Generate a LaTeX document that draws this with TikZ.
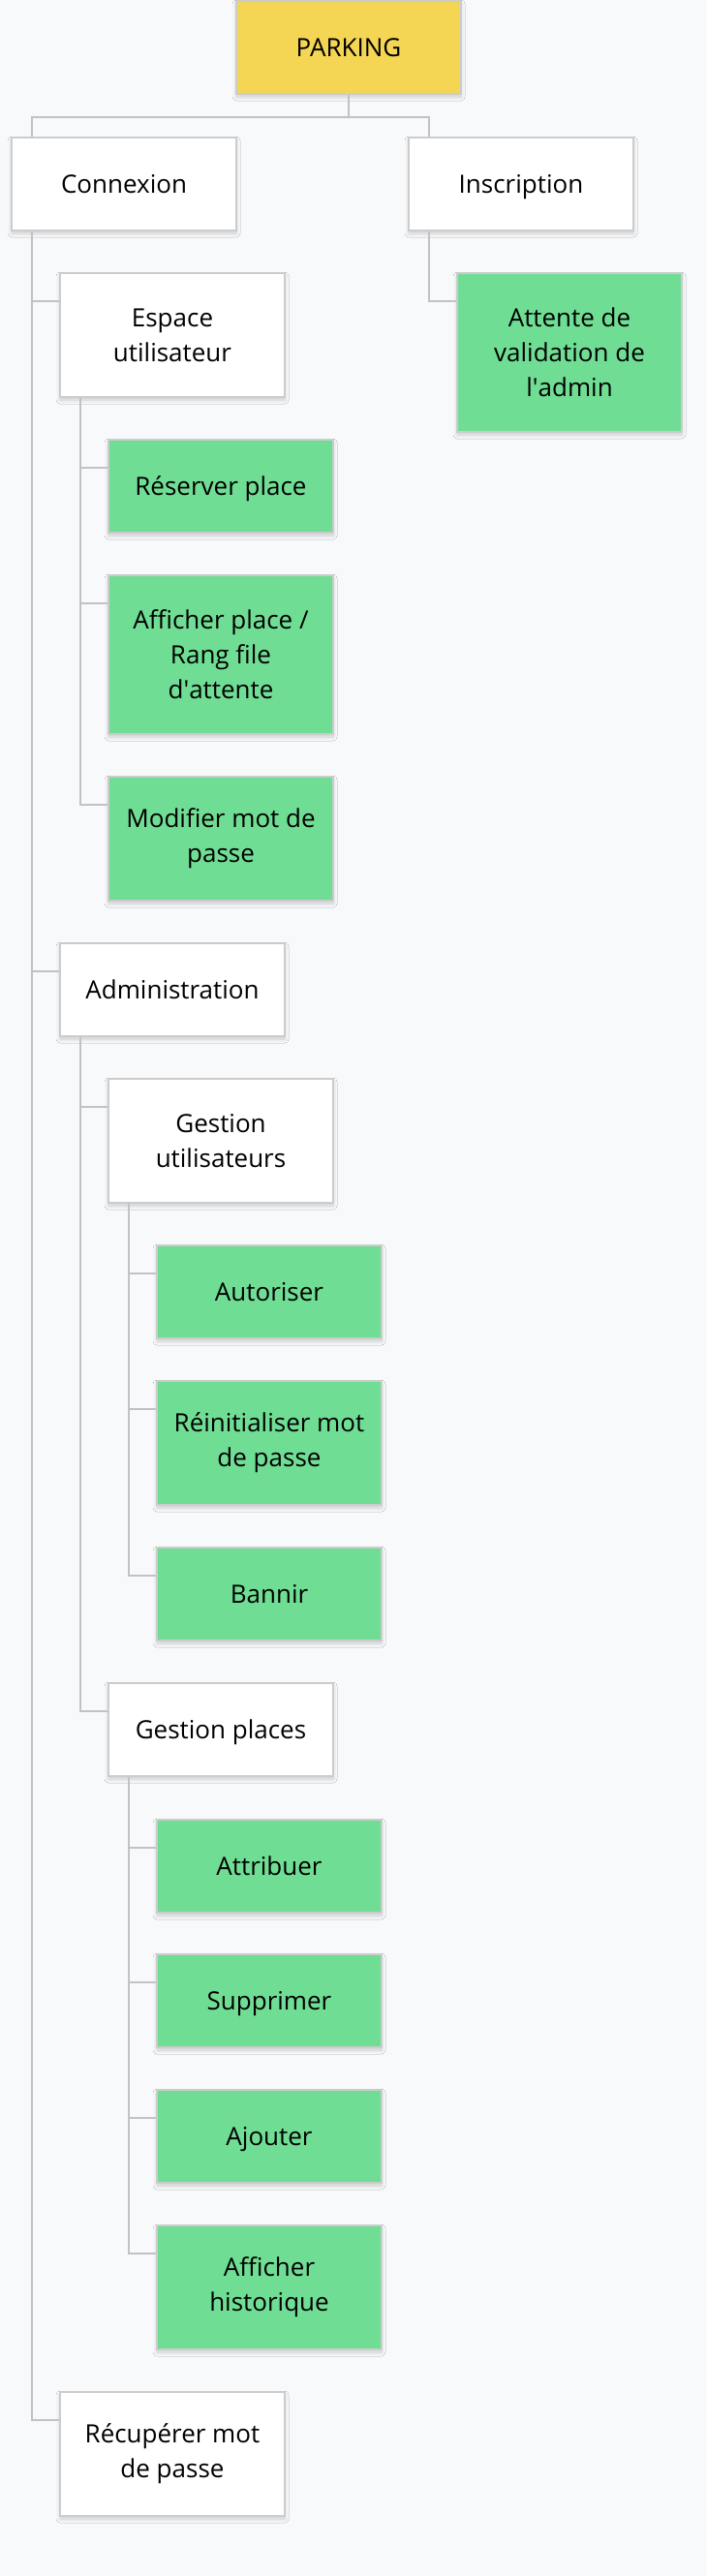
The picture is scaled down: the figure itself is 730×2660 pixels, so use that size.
\documentclass[tikz,border=0pt]{standalone}
\usepackage{fontspec}
\setmainfont{Open Sans}
\usetikzlibrary{shadows.blur}
\definecolor{bgcol}{HTML}{F8F9FB}
\definecolor{bordercol}{HTML}{CCCCCC}
\definecolor{linecol}{HTML}{C2C2C6}
\definecolor{yellowcol}{HTML}{F4D554}
\definecolor{greencol}{HTML}{70DD94}
\tikzset{
  box/.style={draw=bordercol, line width=2pt, minimum width=232pt, inner sep=0pt,
    align=center, font=\fontsize{26}{36}\selectfont, text=black,
    blur shadow={shadow xshift=0pt, shadow yshift=-3pt, shadow blur steps=6, shadow opacity=18, shadow blur radius=4pt}},
  wbox/.style={box, fill=white},
  gbox/.style={box, fill=greencol},
  ybox/.style={box, fill=yellowcol},
  h1/.style={minimum height=96pt, text height=18.5pt, text depth=0pt},
  multi/.style={execute at begin node={\rule{0pt}{26pt}}},
  h2/.style={minimum height=128pt, multi},
  h3/.style={minimum height=164pt, multi},
  conn/.style={draw=linecol, line width=2pt},
}
\begin{document}
\begin{tikzpicture}[x=1pt,y=1pt]
\fill[bgcol] (0,0) rectangle (730,-2660);
\useasboundingbox (0,0) rectangle (730,-2660);

\node[ybox,h1] (root) at (360,-49) {PARKING};
\node[wbox,h1] (cnx) at (128,-190) {Connexion};
\node[wbox,h1] (ins) at (538,-190) {Inscription};
\node[gbox,h3] (att) at (588,-364) {Attente de\\validation de\\l\textquotesingle admin};
\node[wbox,h2] (esp) at (178,-346) {Espace\\utilisateur};
\node[gbox,h1] (res) at (228,-502) {Réserver place};
\node[gbox,h3] (aff) at (228,-676) {Afficher place /\\Rang file\\d\textquotesingle attente};
\node[gbox,h2] (mod) at (228,-866) {Modifier mot de\\passe};
\node[wbox,h1] (adm) at (178,-1022) {Administration};
\node[wbox,h2] (gu) at (228,-1178) {Gestion\\utilisateurs};
\node[gbox,h1] (aut) at (278,-1334) {Autoriser};
\node[gbox,h2] (rei) at (278,-1490) {Réinitialiser mot\\de passe};
\node[gbox,h1] (ban) at (278,-1646) {Bannir};
\node[wbox,h1] (gp) at (228,-1786) {Gestion places};
\node[gbox,h1] (atr) at (278,-1927) {Attribuer};
\node[gbox,h1] (sup) at (278,-2066) {Supprimer};
\node[gbox,h1] (ajo) at (278,-2206) {Ajouter};
\node[gbox,h2] (his) at (278,-2362) {Afficher\\historique};
\node[wbox,h2] (rec) at (178,-2534) {Récupérer mot\\de passe};

% root to first level
\draw[conn] (root.south) -- ++(0,-23) -| ([xshift=22pt]cnx.north west);
\draw[conn] (root.south) -- ++(0,-23) -| ([xshift=22pt]ins.north west);
% Inscription
\draw[conn] ([xshift=22pt]ins.south west) |- ([yshift=-30pt]att.north west);
% Connexion
\draw[conn] ([xshift=22pt]cnx.south west) |- ([yshift=-30pt]esp.north west);
\draw[conn] ([xshift=22pt]cnx.south west) |- ([yshift=-30pt]adm.north west);
\draw[conn] ([xshift=22pt]cnx.south west) |- ([yshift=-30pt]rec.north west);
% Espace
\draw[conn] ([xshift=22pt]esp.south west) |- ([yshift=-30pt]res.north west);
\draw[conn] ([xshift=22pt]esp.south west) |- ([yshift=-30pt]aff.north west);
\draw[conn] ([xshift=22pt]esp.south west) |- ([yshift=-30pt]mod.north west);
% Administration
\draw[conn] ([xshift=22pt]adm.south west) |- ([yshift=-30pt]gu.north west);
\draw[conn] ([xshift=22pt]adm.south west) |- ([yshift=-30pt]gp.north west);
% Gestion utilisateurs
\draw[conn] ([xshift=22pt]gu.south west) |- ([yshift=-30pt]aut.north west);
\draw[conn] ([xshift=22pt]gu.south west) |- ([yshift=-30pt]rei.north west);
\draw[conn] ([xshift=22pt]gu.south west) |- ([yshift=-30pt]ban.north west);
% Gestion places
\draw[conn] ([xshift=22pt]gp.south west) |- ([yshift=-30pt]atr.north west);
\draw[conn] ([xshift=22pt]gp.south west) |- ([yshift=-30pt]sup.north west);
\draw[conn] ([xshift=22pt]gp.south west) |- ([yshift=-30pt]ajo.north west);
\draw[conn] ([xshift=22pt]gp.south west) |- ([yshift=-30pt]his.north west);
\end{tikzpicture}
\end{document}
